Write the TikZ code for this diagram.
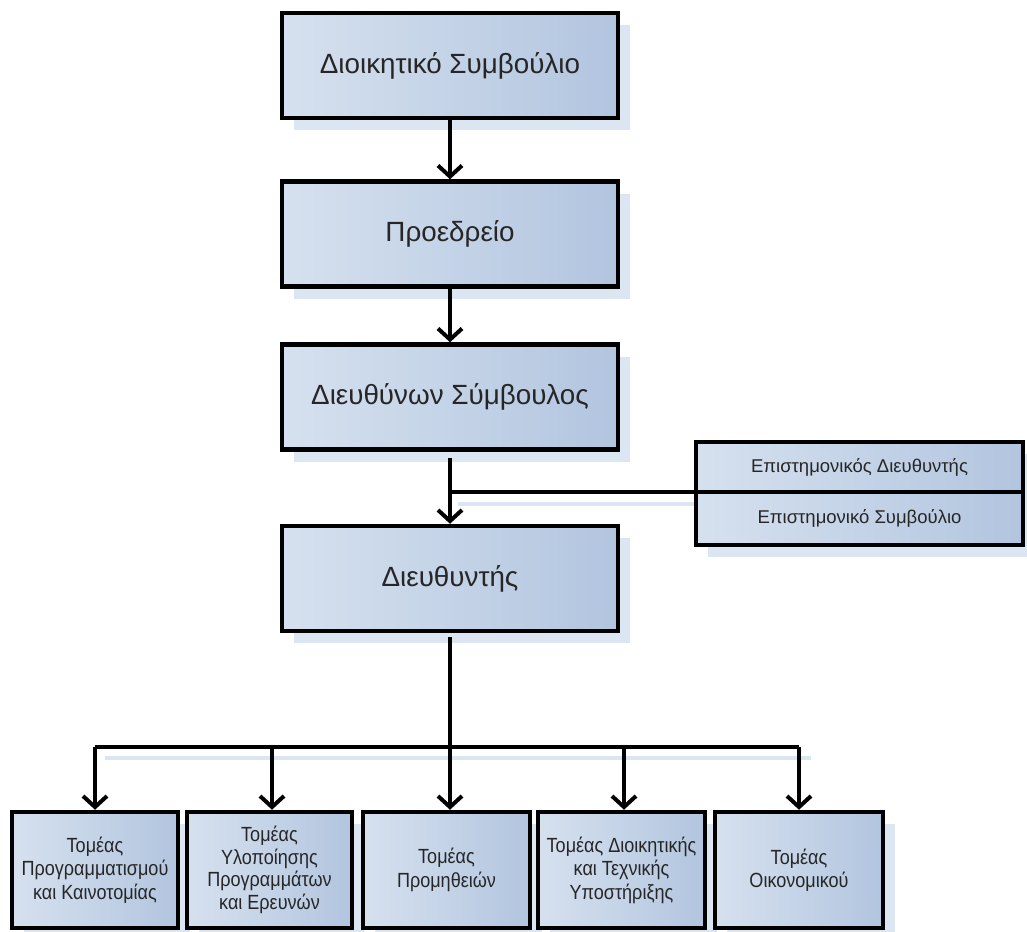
\documentclass[tikz,border=0pt]{standalone}
\usepackage{fontspec}
\setmainfont{Liberation Sans}
\newfontfamily\condfont[FakeStretch=0.88]{Liberation Sans}
\usetikzlibrary{arrows.meta,shadows}
\definecolor{boxl}{HTML}{D6E1EF}
\definecolor{boxr}{HTML}{B2C5DF}
\definecolor{shd}{HTML}{DCE6F2}
\begin{document}
\begin{tikzpicture}[x=1pt,y=-1pt,
  box/.style={draw=black, line width=4.5pt, left color=boxl, right color=boxr,
    inner sep=0pt, align=center, text=black!85,
    drop shadow={shadow xshift=12pt, shadow yshift=-12pt, fill=shd, opacity=1}},
  bigbox/.style={box, minimum width=336pt, minimum height=105pt,
    font=\fontsize{27.8}{32}\selectfont},
  sidebox/.style={box, minimum width=327pt, font=\fontsize{18.5}{22}\selectfont},
  smallbox/.style={box, minimum height=116pt, font=\condfont\fontsize{20.5}{23.5}\selectfont},
  conn/.style={line width=4pt, draw=black},
  arr/.style={conn, -{Straight Barb[length=11pt,width=24pt]}},
  shline/.style={line width=4pt, draw=shd}
]
\useasboundingbox (0,0) rectangle (1027,931);

\node[bigbox] (b1) at (450,65.5) {Διοικητικό Συμβούλιο};
\node[bigbox] (b2) at (450,234) {Προεδρείο};
\node[bigbox] (b3) at (450,397) {Διευθύνων Σύμβουλος};
\node[bigbox] (b4) at (450,578.5) {Διευθυντής};

\node[sidebox, minimum height=50pt] (sd) at (859.5,467) {Επιστημονικός Διευθυντής};
\node[sidebox, minimum height=53pt] (ss) at (859.5,518.5) {Επιστημονικό Συμβούλιο};

\node[smallbox, minimum width=166pt] (t1) at (95,870) {Τομέας\\Προγραμματισμού\\και Καινοτομίας};
\node[smallbox, minimum width=165pt, font=\condfont\fontsize{20.5}{22.5}\selectfont] (t2) at (269.5,870) {Τομέας\\Υλοποίησης\\Προγραμμάτων\\και Ερευνών};
\node[smallbox, minimum width=167pt] (t3) at (446.5,870) {Τομέας\\Προμηθειών};
\node[smallbox, minimum width=167pt] (t4) at (621.5,870) {Τομέας Διοικητικής\\και Τεχνικής\\Υποστήριξης};
\node[smallbox, minimum width=168pt] (t5) at (799,870) {Τομέας\\Οικονομικού};

\coordinate (bus) at (450,747);
\coordinate (tap) at (450,492);

% line shadows
\draw[shline] ([xshift=8pt,yshift=-12pt]tap) -- ([yshift=-12pt]tap -| sd.west);
\draw[shline] ([xshift=10pt,yshift=-11pt]bus -| t1.north) -- ([xshift=12pt,yshift=-11pt]bus -| t5.north);

% connectors
\draw[arr] (b1.south) -- (b2.north);
\draw[arr] (b2.south) -- (b3.north);
\draw[arr, shorten <=6pt] (b3.south) -- (b4.north);
\draw[conn] (tap) -- (tap -| sd.west);
\draw[arr, shorten <=4pt] (b4.south) -- (b4.south |- t3.north);
\draw[conn] (bus -| t1.north) -- (bus -| t5.north);
\draw[arr] (bus -| t1.north) -- (t1.north);
\draw[arr] ([xshift=2.5pt]bus -| t2.north) -- ([xshift=2.5pt]t2.north);
\draw[arr] ([xshift=2.5pt]bus -| t4.north) -- ([xshift=2.5pt]t4.north);
\draw[arr] (bus -| t5.north) -- (t5.north);
\end{tikzpicture}
\end{document}
